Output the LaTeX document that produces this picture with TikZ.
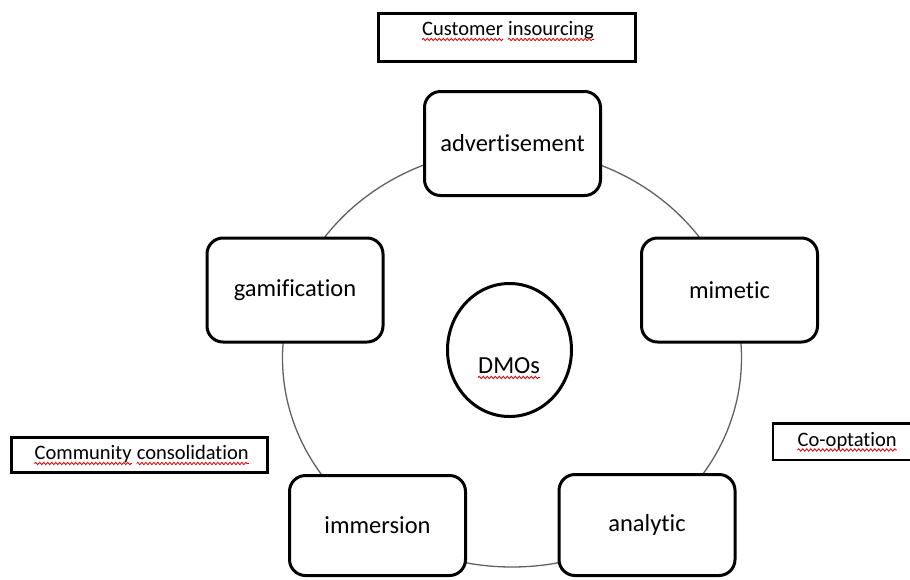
\documentclass[tikz,border=0pt]{standalone}
\usepackage{fontspec}
\setmainfont[Ligatures={NoCommon}]{Carlito}
\usetikzlibrary{shapes.geometric,decorations.pathmorphing}
\tikzset{
  rbox/.style={draw, line width=3pt, rounded corners=16pt, fill=white,
    font=\fontsize{24.5}{29}\selectfont, minimum width=176pt, minimum height=104pt, inner sep=0pt},
  tbox/.style={draw, line width=2.5pt, fill=white, inner sep=0pt},
  small/.style={font=\fontsize{20.5}{24}\selectfont, inner sep=0pt, anchor=base west},
  ring/.style={draw=black!62, line width=1.3pt},
  squig/.style={draw=red!85!black, line width=0.8pt, decorate,
    decoration={snake, segment length=4pt, amplitude=1.2pt}}
}
\begin{document}
\begin{tikzpicture}[x=1pt,y=-1pt]
\useasboundingbox (0,0) rectangle (910,579);
% ring linking the five stages
\draw[ring] (512,358) ellipse [x radius=229.5, y radius=209];
% stages
\node[rbox] (adv) at (512.5,143.5) {advertisement};
\node[rbox] (gam) at (295,290) {gamification};
\node[rbox] (mim) at (729.5,290) {mimetic};
\node[rbox, minimum height=100pt] (imm) at (377.5,525.5) {immersion};
\node[rbox, minimum height=101pt] (ana) at (647,525) {analytic};
% centre
\node[draw, line width=3pt, ellipse, minimum width=124pt, minimum height=133pt, inner sep=0pt] (dmo) at (509.5,350) {};
\node[inner sep=0pt, anchor=base west, font=\fontsize{24.5}{29}\selectfont] (dmolbl) at (478,373.5) {DMOs};
% label boxes
\node[tbox, minimum width=257pt, minimum height=48pt] (cust) at (507,37.5) {};
\node[tbox, minimum width=256pt, minimum height=35pt] (comm) at (139.5,455) {};
\node[tbox, minimum width=152pt, minimum height=36.5pt] (coop) at (849,441.5) {};
% label words
\node[small] (cust1) at (422,35.5) {Customer};
\node[small] (cust2) at ([xshift=4.8pt]cust1.base east) {insourcing};
\node[small] (comm1) at (34.5,459.5) {Community};
\node[small] (comm2) at ([xshift=4.8pt]comm1.base east) {consolidation};
\node[small] (coop1) at (797.5,446) {Co-optation};
% spelling marks
\foreach \w in {cust1,cust2,comm1,comm2,coop1,dmolbl}
  \draw[squig] ([yshift=-4pt]\w.base west) -- ([yshift=-4pt]\w.base east);
\end{tikzpicture}
\end{document}
